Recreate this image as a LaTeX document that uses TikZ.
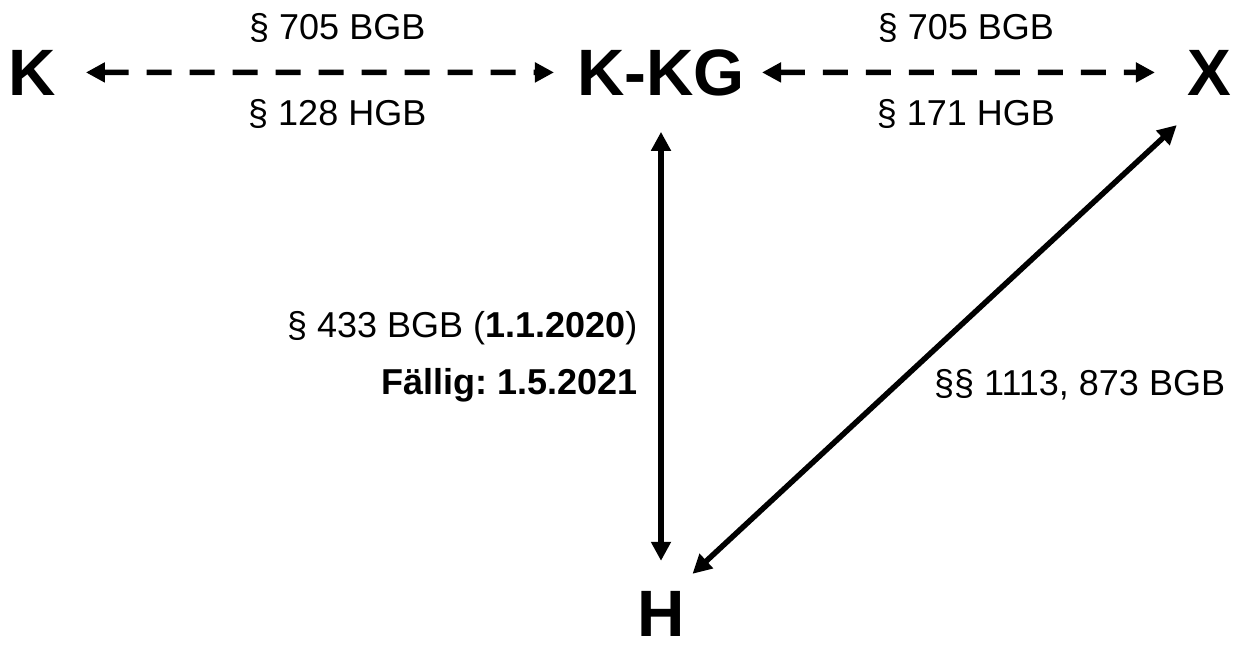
\documentclass[tikz,border=0pt]{standalone}
\usepackage{fontspec}
\setmainfont{Liberation Sans}
\usetikzlibrary{arrows.meta, positioning}
\frenchspacing

\begin{document}
\begin{tikzpicture}[x=1pt, y=1pt,
                party/.style={inner sep=0pt,
                font=\fontsize{65.6}{70}\selectfont\bfseries},
                lbl/.style={inner sep=0pt,
                font=\fontsize{36}{57}\selectfont},
                arr/.style={{Triangle[length=19pt,width=19pt]}-{Triangle[length=19pt,width=19pt]},
                line width=5.5pt},
                dasharr/.style={arr, dash pattern=on 25pt off 18pt},
                node distance=495pt]
\useasboundingbox (0,0) rectangle (1239,-648);
% parties
\node[party, anchor=base] (K) at (32,-95) {K};
\node[party, anchor=base] (kkg) at (661,-95) {K-KG};
\node[party, anchor=base] (X) at (1209,-95) {X};
\node[party, below=of kkg] (H) {H};
% relations
\draw[dasharr, shorten <=30pt, shorten >=23pt] (K) -- (kkg)
    node[lbl, pos=0.54, above=27pt] (gbb1) {§ 705 BGB}
    node[lbl, pos=0.54, below=24pt] (hgb128) {§ 128 HGB};
\draw[dasharr, shorten <=17pt, shorten >=32pt] (kkg) -- (X)
    node[lbl, midway, above=27pt] (gbb2) {§ 705 BGB}
    node[lbl, midway, below=24pt] (hgb171) {§ 171 HGB};
\draw[arr, shorten <=36pt, shorten >=30pt] (kkg.south) -- (H.north)
    node[lbl, pos=0.528, left=21pt, align=right] (kauf)
        {§ 433 BGB (\textbf{1.1.2020})\\ \textbf{Fällig: 1.5.2021}};
\draw[arr, shorten <=25pt, shorten >=44pt] (H.60) -- (X.south)
    node[lbl, pos=0.41, right=38pt, yshift=3pt] (hyp) {§§ 1113, 873 BGB};
\end{tikzpicture}
\end{document}
